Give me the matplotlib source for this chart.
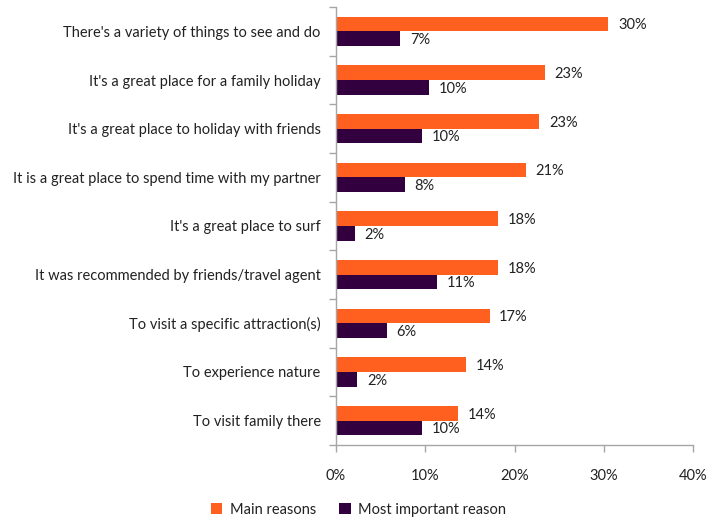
import matplotlib
matplotlib.use("Agg")
import matplotlib.pyplot as plt
import numpy as np

categories = [
    "There's a variety of things to see and do",
    "It's a great place for a family holiday",
    "It's a great place to holiday with friends",
    "It is a great place to spend time with my partner",
    "It's a great place to surf",
    "It was recommended by friends/travel agent",
    "To visit a specific attraction(s)",
    "To experience nature",
    "To visit family there",
]
main_reasons = [30.5, 23.4, 22.8, 21.3, 18.2, 18.2, 17.2, 14.6, 13.7]
main_labels = ["30%", "23%", "23%", "21%", "18%", "18%", "17%", "14%", "14%"]
most_important = [7.2, 10.4, 9.6, 7.7, 2.1, 11.3, 5.7, 2.4, 9.6]
most_labels = ["7%", "10%", "10%", "8%", "2%", "11%", "6%", "2%", "10%"]
series_names = ["Main reasons", "Most important reason"]
xticks = [0, 10, 20, 30, 40]
xtick_labels = ["0%", "10%", "20%", "30%", "40%"]

plt.rcParams['font.family'] = ['Lato', 'DejaVu Sans']
c_main = "#FF5F1F"
c_most = "#33003F"
grey = "#A6A6A6"
fs = 10.5

fig = plt.figure(figsize=(7.1, 5.2), dpi=100)
ax = fig.add_axes([336/710, 1-445/520, (693-336)/710, (445-7)/520])

y = np.arange(len(categories))
h = 0.30
ax.barh(y - h/2, main_reasons, height=h, color=c_main, label=series_names[0])
ax.barh(y + h/2, most_important, height=h, color=c_most, label=series_names[1])

for yi, v, lab in zip(y, main_reasons, main_labels):
    ax.annotate(lab, (v, yi - h/2), xytext=(7, -1), textcoords="offset points",
                va="center", ha="left", fontsize=fs, color="#222222")
for yi, v, lab in zip(y, most_important, most_labels):
    ax.annotate(lab, (v, yi + h/2), xytext=(7, -1), textcoords="offset points",
                va="center", ha="left", fontsize=fs, color="#222222")

ax.set_xlim(0, 40)
ax.set_ylim(len(categories) - 0.5, -0.5)
ax.set_xticks(xticks)
ax.set_xticklabels(xtick_labels, fontsize=fs, color="#222222")
ax.set_yticks(y)
ax.set_yticklabels(categories, fontsize=fs, color="#222222")
ax.set_yticks(np.arange(-0.5, len(categories), 1.0), minor=True)
ax.tick_params(axis="y", which="major", length=0, pad=11)
ax.tick_params(axis="y", which="minor", length=5, color=grey, width=1)
ax.tick_params(axis="x", which="major", length=5, color=grey, width=1, pad=12)

for s in ["top", "right"]:
    ax.spines[s].set_visible(False)
for s in ["left", "bottom"]:
    ax.spines[s].set_color(grey)
    ax.spines[s].set_linewidth(1)

fig.legend(loc="center", bbox_to_anchor=(0.505, 0.02), ncol=2, frameon=False,
           fontsize=fs, handlelength=0.8, handleheight=0.8, handletextpad=0.5,
           columnspacing=1.6, labelcolor="#222222")

fig.savefig("out.png", dpi=100)
